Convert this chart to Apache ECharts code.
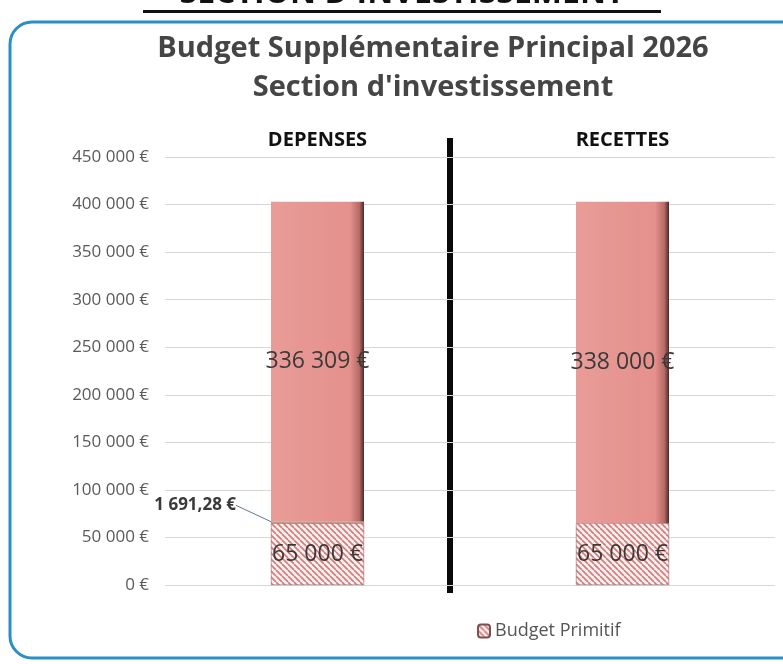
<!DOCTYPE html>
<html>
<head>
<meta charset="utf-8">
<script src="https://cdn.jsdelivr.net/npm/echarts@6/dist/echarts.min.js"></script>
<style>
  html, body { margin: 0; padding: 0; background: #fff; }
  #chart { width: 783px; height: 664px; }
</style>
</head>
<body>
<div id="chart"></div>
<script>
// données
const categories = ['DEPENSES', 'RECETTES'];
const budgetPrimitif = [65000, 65000];
const ajustement = [1691.28, '-'];
const budgetSupp = [336309, 338000];
const yTicks = { min: 0, max: 450000, interval: 50000 };

// format "336 309 €" / "1 691,28 €"
function euro(v) {
  const parts = Number(v).toFixed(Number.isInteger(v) ? 0 : 2).split('.');
  const ent = parts[0].replace(/\B(?=(\d{3})+(?!\d))/g, ' ');
  return ent + (parts[1] ? ',' + parts[1] : '') + ' €';
}

// motif hachuré
const tile = document.createElement('canvas');
tile.width = 6; tile.height = 6;
const ctx = tile.getContext('2d');
ctx.fillStyle = '#fbf0ef';
ctx.fillRect(0, 0, 6, 6);
ctx.strokeStyle = '#d47a78';
ctx.lineWidth = 1.6;
for (let i = -6; i <= 12; i += 6) {
  ctx.beginPath();
  ctx.moveTo(i, 0);
  ctx.lineTo(i + 6, 6);
  ctx.stroke();
}

const font = '"Open Sans", "Noto Sans", sans-serif';

const option = {
  animation: false,
  textStyle: { fontFamily: font },
  title: {
    text: 'Budget Supplémentaire Principal 2026\nSection d\'investissement',
    left: 428,
    textAlign: 'center',
    top: 24,
    textStyle: { fontSize: 29, fontWeight: 'bold', color: '#454545', lineHeight: 39, fontFamily: font }
  },
  legend: {
    data: ['Budget Primitif'],
    left: 472,
    top: 617,
    itemWidth: 12,
    itemHeight: 13,
    itemGap: 4,
    textStyle: { fontSize: 18, color: '#555', fontFamily: font }
  },
  grid: { left: 165, right: 8, top: 157, bottom: 79 },
  xAxis: {
    type: 'category',
    position: 'top',
    data: categories,
    axisLine: { show: false },
    axisTick: { show: false },
    axisLabel: { fontSize: 20, fontWeight: 'bold', color: '#111', margin: 7, fontFamily: font }
  },
  yAxis: {
    type: 'value',
    min: yTicks.min,
    max: yTicks.max,
    interval: yTicks.interval,
    axisLabel: { formatter: euro, fontSize: 17, color: '#5a5a5a', margin: 16, fontFamily: font },
    axisLine: { show: false },
    axisTick: { show: false },
    splitLine: { lineStyle: { color: '#d8d8d8', width: 1 } }
  },
  series: [
    {
      name: 'Budget Primitif',
      type: 'bar',
      stack: 'total',
      barWidth: 93,
      data: budgetPrimitif,
      itemStyle: { color: { image: tile, repeat: 'repeat' }, borderColor: '#7a5050', borderWidth: 0.5 },
      label: { show: true, position: 'inside', formatter: p => euro(p.value), fontSize: 23, color: '#3a3a3a', fontFamily: font }
    },
    {
      name: 'Ajustement',
      type: 'bar',
      stack: 'total',
      data: ajustement,
      itemStyle: { color: '#f1c6a6', borderColor: '#8a5a50', borderWidth: 0.5 },
      label: {
        show: true, position: 'left', formatter: p => euro(p.value),
        fontSize: 17, fontWeight: 'bold', color: '#3a3a3a', fontFamily: font
      },
      labelLayout: { dx: -30, dy: -17 },
      labelLine: { show: true, lineStyle: { color: '#5a7a90', width: 1 } }
    },
    {
      name: 'Budget Supplémentaire',
      type: 'bar',
      stack: 'total',
      data: budgetSupp,
      itemStyle: {
        color: {
          type: 'linear', x: 0, y: 0, x2: 1, y2: 0,
          colorStops: [
            { offset: 0, color: '#e89c98' },
            { offset: 0.85, color: '#e5908c' },
            { offset: 0.95, color: '#b66a66' },
            { offset: 1, color: '#4a2a2a' }
          ]
        }
      },
      label: { show: true, position: 'inside', formatter: p => euro(p.value), fontSize: 23, color: '#3a3a3a', fontFamily: font }
    }
  ],
  graphic: [
    {
      type: 'rect',
      shape: { x: 10, y: 22, width: 800, height: 636, r: 22 },
      style: { fill: 'none', stroke: '#2b8fc6', lineWidth: 3 },
      silent: true
    },
    {
      type: 'text',
      style: { text: 'SECTION D\'INVESTISSEMENT', x: 402, y: -22, fontSize: 32, fontWeight: 'bold', fill: '#111', textAlign: 'center', fontFamily: font },
      silent: true
    },
    {
      type: 'rect',
      shape: { x: 143, y: 10, width: 518, height: 3 },
      style: { fill: '#111' },
      silent: true
    },
    {
      type: 'rect',
      shape: { x: 447, y: 138, width: 6, height: 455 },
      style: { fill: '#0a0a0a' },
      silent: true
    }
  ]
};

const myChart = echarts.init(document.getElementById('chart'));
myChart.setOption(option);
</script>
</body>
</html>
